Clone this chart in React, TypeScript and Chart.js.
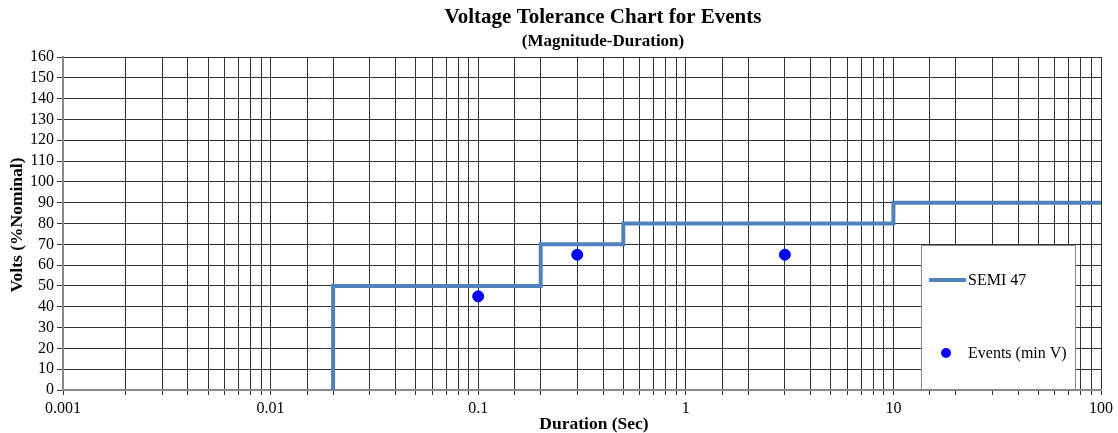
import { useEffect, useRef } from 'react'
import { Chart, registerables, Plugin } from 'chart.js'

Chart.register(...registerables)

// SEMI F47 curve vertices (duration in sec, volts in % nominal)
const semiDurations = [0.02, 0.02, 0.2, 0.2, 0.5, 0.5, 10, 10, 100]
const semiVolts = [0, 50, 50, 70, 70, 80, 80, 90, 90]

// measured events
const eventDurations = [0.1, 0.3, 3]
const eventVolts = [45, 65, 65]

const xTickLabels = [0.001, 0.01, 0.1, 1, 10, 100]

const SERIF = "'Times New Roman', 'Liberation Serif', serif"
const LINE_COLOR = '#4f81bd'
const DOT_COLOR = '#0000ff'

// titles, axis titles and the boxed legend drawn by hand
const decorPlugin: Plugin = {
  id: 'decor',
  afterDraw(chart) {
    const ctx = chart.ctx
    ctx.save()
    ctx.fillStyle = '#000'
    ctx.textAlign = 'center'
    ctx.textBaseline = 'middle'
    ctx.font = `bold 21px ${SERIF}`
    ctx.fillText('Voltage Tolerance Chart for Events', 603, 18)
    ctx.font = `bold 17px ${SERIF}`
    ctx.fillText('(Magnitude-Duration)', 603, 42)

    ctx.font = `bold 17.5px ${SERIF}`
    ctx.fillText('Duration (Sec)', 594, 424)
    ctx.save()
    ctx.translate(17, 225)
    ctx.rotate(-Math.PI / 2)
    ctx.fillText('Volts (%Nominal)', 0, 0)
    ctx.restore()

    // legend box
    const bx = 921, by = 245, bw = 154, bh = 144
    ctx.fillStyle = '#fff'
    ctx.fillRect(bx, by, bw, bh)
    ctx.strokeStyle = '#888'
    ctx.lineWidth = 1
    ctx.strokeRect(bx + 0.5, by + 0.5, bw, bh)

    ctx.strokeStyle = LINE_COLOR
    ctx.lineWidth = 4
    ctx.beginPath()
    ctx.moveTo(929, 280)
    ctx.lineTo(966, 280)
    ctx.stroke()

    ctx.fillStyle = DOT_COLOR
    ctx.beginPath()
    ctx.arc(946, 353, 5, 0, Math.PI * 2)
    ctx.fill()

    ctx.fillStyle = '#000'
    ctx.textAlign = 'left'
    ctx.font = `16px ${SERIF}`
    ctx.fillText('SEMI 47', 968, 281)
    ctx.fillText('Events (min V)', 968, 354)
    ctx.restore()
  },
}

export default function App() {
  const canvasRef = useRef<HTMLCanvasElement>(null)
  const chartRef = useRef<Chart | null>(null)

  useEffect(() => {
    if (!canvasRef.current) return
    if (chartRef.current) chartRef.current.destroy()

    const semiData = semiDurations.map((x, i) => ({ x, y: semiVolts[i] }))
    const eventData = eventDurations.map((x, i) => ({ x, y: eventVolts[i] }))

    chartRef.current = new Chart(canvasRef.current, {
      type: 'scatter',
      data: {
        datasets: [
          {
            label: 'SEMI 47',
            data: semiData,
            showLine: true,
            borderColor: LINE_COLOR,
            borderWidth: 4,
            pointRadius: 0,
            fill: false,
          },
          {
            label: 'Events (min V)',
            data: eventData,
            backgroundColor: DOT_COLOR,
            borderColor: DOT_COLOR,
            pointRadius: 5.5,
          },
        ],
      },
      options: {
        responsive: false,
        animation: false,
        layout: { padding: { top: 57, right: 17, left: 0, bottom: 0 } },
        plugins: {
          legend: { display: false },
          title: { display: false },
          tooltip: { enabled: false },
        },
        scales: {
          x: {
            type: 'logarithmic',
            min: 0.001,
            max: 100,
            afterFit: (scale) => {
              scale.height = 43
            },
            grid: {
              color: 'rgba(0,0,0,0.8)',
              lineWidth: 1,
              tickLength: 5,
            },
            border: { color: '#888', width: 2 },
            ticks: {
              autoSkip: false,
              maxRotation: 0,
              color: '#000',
              padding: 4,
              font: { family: SERIF, size: 16 },
              callback: (value) => {
                const v = Number(value)
                const hit = xTickLabels.find((t) => Math.abs(t - v) / t < 1e-6)
                return hit !== undefined ? String(hit) : ''
              },
            },
          },
          y: {
            min: 0,
            max: 160,
            afterFit: (scale) => {
              scale.width = 63
            },
            grid: {
              color: 'rgba(0,0,0,0.8)',
              lineWidth: 1,
              tickLength: 6,
            },
            border: { color: '#888', width: 2 },
            ticks: {
              stepSize: 10,
              autoSkip: false,
              color: '#000',
              padding: 3,
              font: { family: SERIF, size: 16 },
            },
          },
        },
      },
      plugins: [decorPlugin],
    })

    return () => {
      if (chartRef.current) {
        chartRef.current.destroy()
        chartRef.current = null
      }
    }
  }, [])

  return (
    <div style={{ position: 'fixed', left: 0, top: 0, width: 1118, height: 433, background: '#fff' }}>
      <canvas ref={canvasRef} width={1118} height={433} />
    </div>
  )
}
